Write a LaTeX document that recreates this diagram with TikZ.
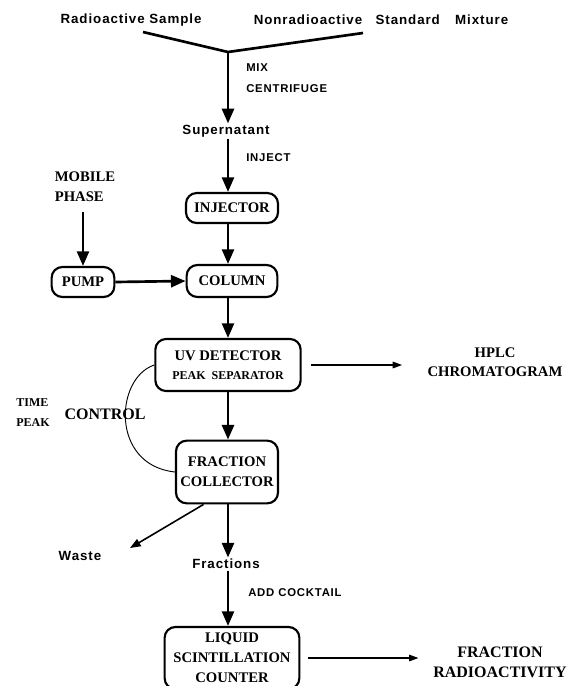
\documentclass[tikz,border=0pt]{standalone}
\usepackage{fontspec}
\setmainfont{Liberation Serif}
\newfontfamily\flowsans[LetterSpace=7, UprightFont=* Bold]{Liberation Sans}
\usetikzlibrary{arrows.meta, calc}

\begin{document}
\begin{tikzpicture}[x=0.75pt, y=-0.75pt]
    \tikzset{
        unit/.style={rectangle, rounded corners=8pt, draw, line width=1.6pt,
            inner sep=0pt, align=center,
            font=\bfseries\fontsize{11}{15}\selectfont},
        samplelbl/.style={inner sep=1pt,
            font=\flowsans\fontsize{10}{12}\selectfont},
        actionlbl/.style={inner sep=0pt, anchor=west, align=left,
            font=\flowsans\fontsize{8.5}{16}\selectfont},
        outlbl/.style={align=center, inner sep=0pt,
            font=\bfseries\fontsize{11}{14}\selectfont},
        flow/.style={line width=2pt, -{Triangle[length=11pt, width=9pt]}},
        drain/.style={line width=1.2pt, -{Triangle[length=8pt, width=6pt]}},
        signal/.style={line width=0.8pt, -{Triangle[length=7pt, width=5pt]}}
    }
    \useasboundingbox (0,0) rectangle (580,686);
    % sample and standard meet at the mixing point
    \node[samplelbl] (rad) at (131,20) {Radioactive Sample};
    \node[samplelbl] (std) at (381,20)
        {Nonradioactive\hspace{1em}Standard\hspace{1.15em}Mixture};
    \coordinate (vl) at (143,32);
    \coordinate (vr) at (363,33);
    \coordinate (mix) at (228,52);
    \draw[line width=2pt] (vl) -- (mix) -- (vr);
    \node[samplelbl] (sup) at (226,131) {Supernatant};
    \draw[flow] (mix) -- (mix |- sup.north);
    \node[actionlbl] (mixlbl) at (246,78) {MIX\\CENTRIFUGE};
    \node[actionlbl] (injlbl) at (246,158) {INJECT};
    % HPLC part
    \node[unit, minimum width=69pt, minimum height=22.5pt] (inj) at (232,208) {INJECTOR};
    \node[unit, minimum width=68pt, minimum height=24pt] (col) at (232,281) {COLUMN};
    \node[font=\bfseries\fontsize{11}{15}\selectfont, align=left] (mob) at (85,187)
        {MOBILE\\PHASE};
    \node[unit, minimum width=47pt, minimum height=22.5pt] (pump) at (83,282) {PUMP};
    \node[unit, minimum width=109pt, minimum height=39pt] (uv) at (228,365)
        {UV DETECTOR\\[-1pt]{\fontsize{9}{12}\selectfont PEAK\ \ SEPARATOR}};
    \node[unit, minimum width=76.5pt, minimum height=47pt] (fc) at (227,472)
        {FRACTION\\COLLECTOR};
    \draw[flow] (sup.south -| mix) -- (mix |- inj.north);
    \draw[flow] (mix |- inj.south) -- (mix |- col.north);
    \draw[flow, shorten <=4pt] (mob.south -| pump) -- (pump.north);
    \draw[flow] (pump.east) -- (col.west);
    \draw[flow] (col.south -| mix) -- (mix |- uv.north);
    \draw[flow] (uv.south -| mix) -- (mix |- fc.north);
    \node[outlbl] (hplc) at (495,362) {HPLC\\CHROMATOGRAM};
    \draw[signal, shorten <=7pt, shorten >=19pt] (uv.east) -- (uv.east -| hplc.west);
    % peak/time control of the collector
    \draw[line width=0.7pt] (uv.west) .. controls (115,378) and (110,465) .. (fc.west);
    \node[font=\bfseries\fontsize{9}{15}\selectfont, align=left] (tp) at (33,413)
        {TIME\\PEAK};
    \node[font=\bfseries\fontsize{12}{14}\selectfont] (ctl) at (105,414) {CONTROL};
    % counting
    \node[samplelbl] (waste) at (80,556) {Waste};
    \coordinate (wtip) at (130,548);
    \draw[drain] ($(fc.south)!0.45!(fc.south west)$) -- (wtip);
    \node[samplelbl] (frac) at (226,564) {Fractions};
    \draw[flow] (fc.south -| mix) -- (mix |- frac.north);
    \node[actionlbl] (cock) at (248,593) {ADD COCKTAIL};
    \node[unit, minimum width=101pt, minimum height=46.5pt] (lsc) at (232,658)
        {LIQUID\\SCINTILLATION\\COUNTER};
    \draw[flow] (frac.south -| mix) -- (mix |- lsc.north);
    \node[outlbl, font=\bfseries\fontsize{12}{15}\selectfont] (fra) at (500,662)
        {FRACTION\\RADIOACTIVITY};
    \draw[signal, shorten <=6pt, shorten >=11pt] (lsc.east) -- (lsc.east -| fra.west);
\end{tikzpicture}
\end{document}
